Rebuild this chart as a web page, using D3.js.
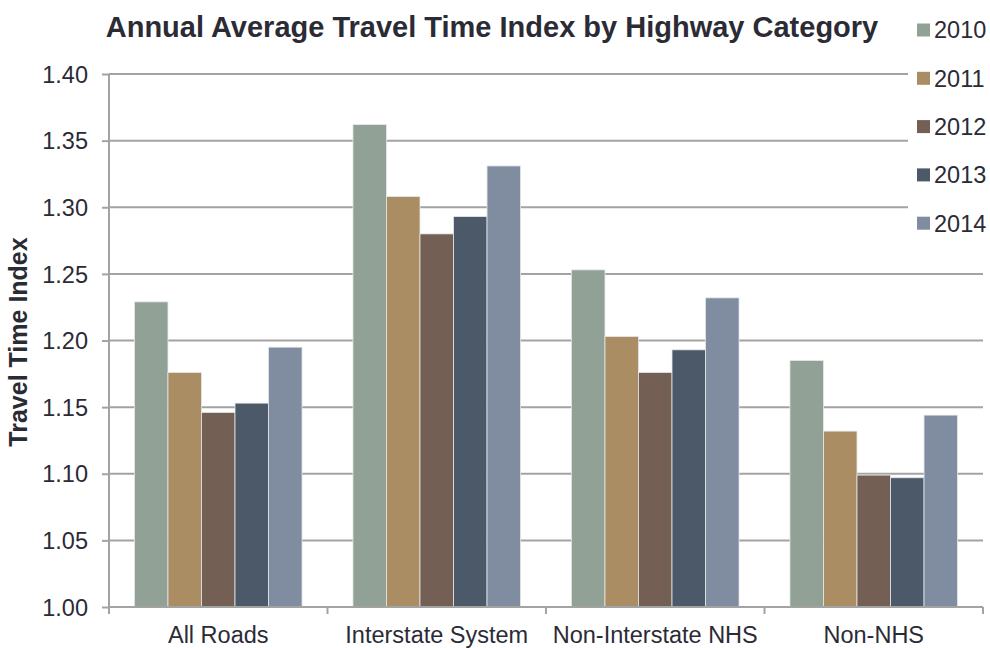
<!DOCTYPE html>
<html><head><meta charset="utf-8">
<script src="https://cdn.jsdelivr.net/npm/d3@7"></script>
<style>body{margin:0;background:#fff}svg{display:block}text{font-family:"Liberation Sans",Arial,sans-serif;fill:#2b2b36}</style>
</head><body><svg id="c" width="990" height="648"></svg>
<script>
const categories = ["All Roads","Interstate System","Non-Interstate NHS","Non-NHS"];
const years = ["2010","2011","2012","2013","2014"];
const v2010 = [1.229,1.362,1.253,1.185];
const v2011 = [1.176,1.308,1.203,1.132];
const v2012 = [1.146,1.280,1.176,1.099];
const v2013 = [1.153,1.293,1.193,1.097];
const v2014 = [1.195,1.331,1.232,1.144];
const yTicks = [1.00,1.05,1.10,1.15,1.20,1.25,1.30,1.35,1.40];
const colors = ["#91a196","#ab8d64","#735f53","#4c5968","#808da0"];
const series = [v2010,v2011,v2012,v2013,v2014];

const svg = d3.select("#c");
const L=109,R=983,T=74,B=607;
const x0 = d3.scaleBand().domain(categories).range([L,R]).paddingInner(0.233).paddingOuter(0.1165);
const x1 = d3.scaleBand().domain(years).range([0,x0.bandwidth()]);
const y = d3.scaleLinear().domain([1.0,1.4]).range([B,T]);
const grid="#a3a3a3";

// gridlines
svg.append("g").selectAll("line").data(yTicks.slice(1)).join("line")
  .attr("x1",L).attr("x2",R).attr("y1",d=>y(d)).attr("y2",d=>y(d))
  .attr("stroke",grid).attr("stroke-width",2);

// bars
const g = svg.append("g");
categories.forEach((c,i)=>{
  years.forEach((yr,j)=>{
    const v = series[j][i];
    g.append("rect").attr("x",x0(c)+x1(yr)).attr("width",x1.bandwidth())
      .attr("y",y(v)).attr("height",y(1.0)-y(v))
      .attr("fill",colors[j]).attr("stroke","#e6e8ea").attr("stroke-width",0.8);
  });
});

// y axis
const ya = svg.append("g").attr("transform",`translate(${L},0)`)
  .call(d3.axisLeft(y).tickValues(yTicks).tickFormat(d3.format(".2f")).tickSize(7).tickPadding(14));
ya.select(".domain").attr("stroke",grid).attr("stroke-width",2).attr("d",`M0,${T}V${B+6}`);
ya.selectAll(".tick line").attr("stroke",grid).attr("stroke-width",2);
ya.selectAll("text").style("font-size","23.5px").attr("fill","#2b2b36").attr("dy","0.35em");

// x axis
const xa = svg.append("g").attr("transform",`translate(0,${B})`)
  .call(d3.axisBottom(x0).tickSize(0).tickPadding(19));
xa.select(".domain").attr("stroke",grid).attr("stroke-width",2).attr("d",`M${L},0H${R}`);
xa.selectAll("text").style("font-size","23.5px").attr("fill","#2b2b36");
const bounds = [L].concat(categories.map(c=>x0(c)+x0.bandwidth()+x0.step()*0.1165));
svg.append("g").selectAll("line").data(bounds).join("line")
  .attr("x1",d=>d).attr("x2",d=>d).attr("y1",B).attr("y2",B+7)
  .attr("stroke",grid).attr("stroke-width",2);

// y title
svg.append("text").attr("transform","translate(27,342) rotate(-90)")
  .attr("text-anchor","middle").style("font-size","25px").style("font-weight","bold")
  .text("Travel Time Index");

// title
svg.append("text").attr("x",492).attr("y",37).attr("text-anchor","middle")
  .style("font-size","29px").style("font-weight","bold")
  .text("Annual Average Travel Time Index by Highway Category");

// legend
const lg = svg.append("g");
lg.append("rect").attr("x",908).attr("y",0).attr("width",82).attr("height",242).attr("fill","#fff");
years.forEach((yr,j)=>{
  const cy = 30 + j*48.3;
  lg.append("rect").attr("x",917).attr("y",cy-6.5).attr("width",13).attr("height",13).attr("fill",colors[j]);
  lg.append("text").attr("x",934).attr("y",cy).attr("dy","0.36em").style("font-size","23.5px").text(yr);
});
</script></body></html>
